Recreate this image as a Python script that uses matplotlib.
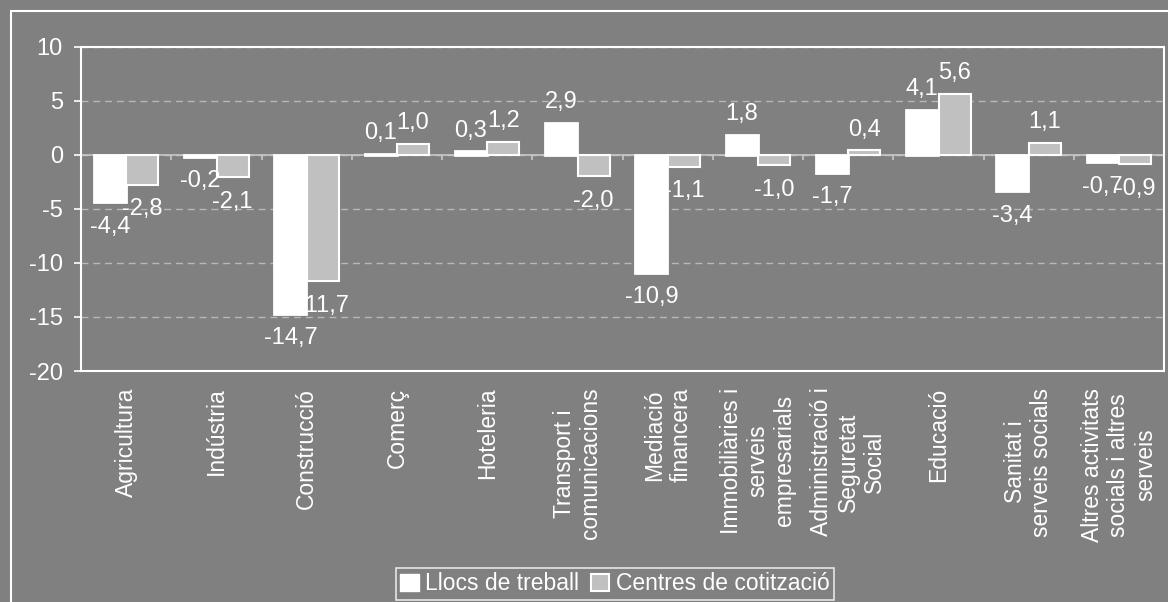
import numpy as np
import matplotlib.pyplot as plt
from matplotlib.patches import Rectangle, Patch

# Dades
sectors = ["Agricultura", "Indústria", "Construcció", "Comerç", "Hoteleria",
           "Transport i\ncomunicacions", "Mediació\nfinancera",
           "Immobiliàries i\nserveis\nempresarials",
           "Administració i\nSeguretat\nSocial", "Educació",
           "Sanitat i\nserveis socials",
           "Altres activitats\nsocials i altres\nserveis"]
llocs = [-4.4, -0.2, -14.7, 0.1, 0.3, 2.9, -10.9, 1.8, -1.7, 4.1, -3.4, -0.7]
centres = [-2.8, -2.1, -11.7, 1.0, 1.2, -2.0, -1.1, -1.0, 0.4, 5.6, 1.1, -0.9]
series_names = ["Llocs de treball", "Centres de cotització"]

plt.rcParams['font.family'] = ['Liberation Sans', 'DejaVu Sans']
plt.rcParams['axes.unicode_minus'] = False
bg = '#808080'
fs_num = 17
fs_txt = 16.5

fig = plt.figure(figsize=(11.68, 6.02), dpi=100, facecolor=bg)
# marc exterior
fig.patches.append(Rectangle((11 / 1168, -0.1), 1.2, 1 - 11 / 602 + 0.1,
                             transform=fig.transFigure, fill=False,
                             edgecolor='white', lw=1.5))

ax = fig.add_axes([81 / 1168, 1 - 371 / 602, (1164 - 81) / 1168, (371 - 46.5) / 602])
ax.set_facecolor(bg)

x = np.arange(len(sectors))
w = 0.355
b1 = ax.bar(x - 0.18, llocs, w, color='white', edgecolor='white', lw=2, zorder=3)
b2 = ax.bar(x + 0.18, centres, w, color='#c0c0c0', edgecolor='white', lw=1.5, zorder=3)

# etiquetes de dades
for bars, vals in ((b1, llocs), (b2, centres)):
    for rect, v in zip(bars, vals):
        off = 15 if v >= 0 else -17.5
        ax.annotate(f"{v:.1f}".replace('.', ','),
                    (rect.get_x() + rect.get_width() / 2, v),
                    xytext=(0, off), textcoords='offset points',
                    ha='center', va='center', color='white', fontsize=fs_num, zorder=5)

ax.set_xlim(-0.5, len(sectors) - 0.5)
ax.set_ylim(-20, 10)
ax.set_yticks(np.arange(-20, 11, 5))
ax.yaxis.grid(True, linestyle=(0, (5, 3.5)), color='#b8b8b8', lw=1)
ax.set_axisbelow(True)

# línia del zero i marques de categoria
ax.axhline(0, color='#c8c8c8', lw=1.2, zorder=2)
ax.vlines(np.arange(len(sectors) + 1) - 0.5, 0, -0.45, color='#c8c8c8', lw=1.2, zorder=2)

ax.set_xticks(x)
ax.set_xticklabels(sectors, rotation=90, ha='center', va='top',
                   multialignment='center', color='white', fontsize=fs_txt)
ax.tick_params(axis='x', length=0, pad=12)
ax.tick_params(axis='y', colors='white', labelsize=fs_num, length=5, width=1.2, pad=8)

for s in ax.spines.values():
    s.set_color('white')
    s.set_linewidth(1.5)

handles = [Patch(facecolor='white', edgecolor='white', label=series_names[0]),
           Patch(facecolor='#c0c0c0', edgecolor='white', lw=1.5, label=series_names[1])]
leg = fig.legend(handles=handles, loc='center', bbox_to_anchor=(615 / 1168, 1 - 584 / 602),
                 ncol=2, frameon=True, fancybox=False, fontsize=fs_txt,
                 handlelength=0.8, handleheight=0.8, handletextpad=0.3,
                 columnspacing=0.5, borderpad=0.2, borderaxespad=0)
leg.get_frame().set_facecolor(bg)
leg.get_frame().set_edgecolor('white')
leg.get_frame().set_linewidth(1.2)
for t in leg.get_texts():
    t.set_color('white')

fig.savefig('out.png', dpi=100, facecolor=bg)
